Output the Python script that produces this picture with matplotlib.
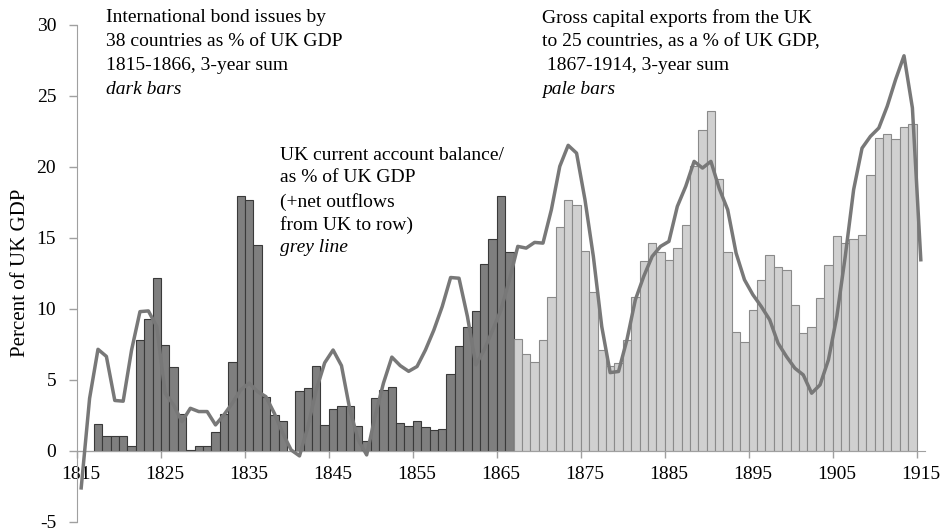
import matplotlib
matplotlib.use("Agg")
import matplotlib.pyplot as plt
import numpy as np

plt.rcParams['font.family'] = ['Liberation Serif', 'DejaVu Serif']
plt.rcParams['axes.unicode_minus'] = False

# ---- data ----
dark_years = list(range(1815, 1867))
dark_values = [0, 0, 1.9, 1.05, 1.05, 1.05, 0.37, 7.8, 9.25, 12.18,
               7.42, 5.87, 2.6, 0.1, 0.37, 0.37, 1.34, 2.6, 6.24, 17.96,
               17.68, 14.5, 3.76, 2.54, 2.11, 0, 4.25, 4.46, 6.0, 1.83,
               2.96, 3.17, 3.17, 1.76, 0.7, 3.69, 4.32, 4.53, 2.0, 1.76,
               2.11, 1.71, 1.48, 1.57, 5.44, 7.35, 8.69, 9.83, 13.15, 14.9,
               17.96, 14.0]

pale_years = list(range(1867, 1915))
pale_values = [7.86, 6.8, 6.29, 7.82, 10.82, 15.73, 17.63, 17.32, 14.08, 11.15,
               7.11, 5.94, 6.17, 7.82, 10.82, 13.38, 14.62, 14.01, 13.45, 14.27,
               15.92, 20.02, 22.56, 23.9, 19.15, 14.0, 8.4, 7.65, 9.9, 12.04,
               13.78, 12.93, 12.75, 10.26, 8.33, 8.71, 10.75, 13.07, 15.12, 14.62,
               14.9, 15.19, 19.39, 22.04, 22.32, 21.97, 22.77, 22.98]

line_years = list(range(1815, 1916))
line_values = [-2.6, 3.7, 7.15, 6.65, 3.55, 3.5, 7.1, 9.8, 9.85, 8.75,
               4.06, 3.24, 2.06, 3.0, 2.77, 2.77, 1.83, 2.54, 3.36, 4.3,
               4.77, 4.18, 3.82, 2.65, 1.25, 0.07, -0.35, 1.7, 4.3, 6.2,
               7.1, 6.0, 2.9, 0.77, -0.28, 2.42, 4.77, 6.6, 6.0, 5.6,
               5.94, 7.1, 8.5, 10.16, 12.2, 12.15, 9.46, 6.06, 7.11, 8.5,
               9.93, 12.04, 14.39, 14.27, 14.67, 14.62, 16.97, 20.02, 21.5, 20.95,
               17.68, 13.68, 8.75, 5.51, 5.59, 7.82, 10.63, 12.28, 13.68, 14.39,
               14.74, 17.2, 18.61, 20.37, 19.9, 20.37, 18.45, 16.97, 13.92, 12.04,
               10.99, 10.16, 9.23, 7.58, 6.64, 5.82, 5.35, 4.06, 4.65, 6.41,
               9.46, 13.68, 18.38, 21.3, 22.13, 22.72, 24.25, 26.13, 27.8, 24.13,
               13.45]

tick_years = list(range(1815, 1916, 10))
y_ticks = [-5, 0, 5, 10, 15, 20, 25, 30]

left_text = ["International bond issues by", "38 countries as % of UK GDP",
             "1815-1866, 3-year sum"]
left_italic = "dark bars"
mid_text = ["UK current account balance/", "as % of UK GDP", "(+net outflows",
            "from UK to row)"]
mid_italic = "grey line"
right_text = ["Gross capital exports from the UK", "to 25 countries, as a % of UK GDP,",
              " 1867-1914, 3-year sum"]
right_italic = "pale bars"

# ---- figure ----
W, H = 945, 532
fig = plt.figure(figsize=(W / 100, H / 100), dpi=100)
x0, x1 = 77, 925
yt, yb = 24.5, 522
ax = fig.add_axes([x0 / W, 1 - yb / H, (x1 - x0) / W, (yb - yt) / H])

first = line_years[0]
def cat(years):
    return np.array(years) - first + 0.5

ax.bar(cat(dark_years), dark_values, width=1.0, color='#7f7f7f',
       edgecolor='#3a3a3a', linewidth=0.8, zorder=2)
ax.bar(cat(pale_years), pale_values, width=1.0, color='#d0d0d0',
       edgecolor='#8a8a8a', linewidth=0.8, zorder=2)
ax.plot(cat(line_years), line_values, color='#787878', linewidth=2.5,
        zorder=3, solid_joinstyle='round')

ax.set_xlim(0, len(line_years))
ax.set_ylim(-5, 30)

for s in ['top', 'right']:
    ax.spines[s].set_visible(False)
ax.spines['left'].set_color('#a0a0a0')
ax.spines['bottom'].set_color('#a0a0a0')
ax.spines['bottom'].set_position(('data', 0))

ax.set_yticks(y_ticks)
ax.set_yticklabels([str(v) for v in y_ticks])
ax.tick_params(axis='y', direction='out', length=6, width=1, color='#a0a0a0',
               pad=9, labelsize=14)

major = [y - first for y in tick_years]
ax.set_xticks(major)
ax.set_xticklabels([''] * len(major))
ax.set_xticks([y - first + 0.5 for y in tick_years], minor=True)
ax.set_xticklabels([str(y) for y in tick_years], minor=True)
ax.tick_params(axis='x', which='major', direction='out', length=5, width=1,
               color='#a0a0a0')
ax.tick_params(axis='x', which='minor', length=0, pad=11, labelsize=14)

fig.text(21 / W, 1 - 273 / H, "Percent of UK GDP", rotation=90,
         ha='center', va='center', fontsize=15)

def block(x, ys, lines, italic):
    for yy, t in zip(ys, lines):
        fig.text(x / W, 1 - yy / H, t, ha='left', va='center', fontsize=14)
    fig.text(x / W, 1 - ys[len(lines)] / H, italic, ha='left', va='center',
             fontsize=14, style='italic')

block(106, [18, 42, 66, 90], left_text, left_italic)
block(280, [155, 178, 202, 225, 248], mid_text, mid_italic)
block(542, [18, 42, 66, 89], right_text, right_italic)

fig.savefig("out.png", dpi=100)
